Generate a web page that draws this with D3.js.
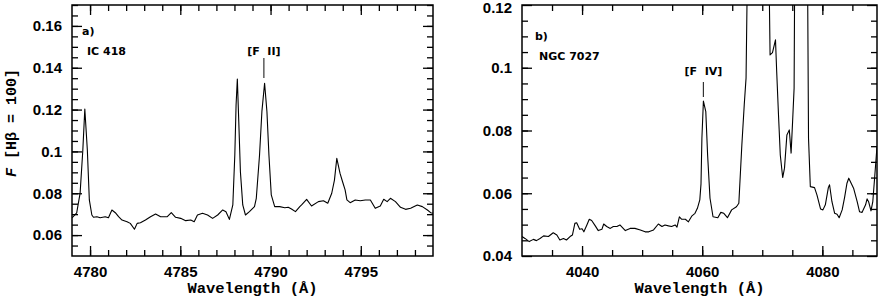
<!DOCTYPE html>
<html><head><meta charset="utf-8">
<script src="https://cdn.jsdelivr.net/npm/d3@7"></script>
<style>body{margin:0;background:#fff} svg{display:block}</style>
</head><body><svg id="c" width="883" height="300"></svg>
<script>
// ---------- data ----------
const waveA = [4779.00,4779.26,4779.45,4779.60,4779.71,4779.85,4779.96,4780.10,4780.19,4780.38,4780.56,4780.84,4781.02,4781.21,4781.40,4781.58,4781.77,4782.05,4782.23,4782.46,4782.61,4782.79,4783.07,4783.35,4783.63,4783.91,4784.28,4784.50,4784.74,4785.02,4785.30,4785.58,4785.77,4785.95,4786.23,4786.51,4786.79,4787.07,4787.35,4787.53,4787.72,4787.91,4788.02,4788.09,4788.16,4788.24,4788.33,4788.46,4788.61,4788.83,4789.11,4789.21,4789.39,4789.52,4789.67,4789.80,4789.91,4790.04,4790.23,4790.51,4790.79,4790.98,4791.16,4791.38,4791.62,4791.72,4792.00,4792.27,4792.65,4792.93,4793.17,4793.39,4793.54,4793.67,4793.85,4793.99,4794.13,4794.23,4794.41,4794.69,4794.97,4795.25,4795.53,4795.80,4796.08,4796.27,4796.46,4796.64,4796.92,4797.20,4797.48,4797.76,4798.13,4798.41,4798.69,4798.87,4799.00];
const fluxA = [0.0682,0.0706,0.0801,0.1007,0.1203,0.1007,0.0768,0.0696,0.0685,0.0688,0.0683,0.0688,0.0683,0.0720,0.0707,0.0688,0.0672,0.0664,0.0656,0.0628,0.0656,0.0659,0.0672,0.0688,0.0701,0.0688,0.0688,0.0707,0.0685,0.0680,0.0669,0.0672,0.0664,0.0696,0.0704,0.0696,0.0680,0.0696,0.0720,0.0712,0.0675,0.0744,0.0983,0.1222,0.1346,0.1142,0.0903,0.0744,0.0696,0.0712,0.0736,0.0776,0.0983,0.1190,0.1326,0.1190,0.0983,0.0792,0.0736,0.0736,0.0731,0.0733,0.0725,0.0712,0.0736,0.0744,0.0771,0.0739,0.0760,0.0764,0.0752,0.0800,0.0863,0.0967,0.0895,0.0855,0.0816,0.0768,0.0755,0.0768,0.0764,0.0768,0.0768,0.0728,0.0739,0.0771,0.0760,0.0776,0.0760,0.0733,0.0723,0.0728,0.0744,0.0736,0.0720,0.0707,0.0704];

const waveB = [4030.0,4030.5,4031.2,4031.9,4032.4,4033.0,4033.6,4034.4,4035.2,4035.8,
4036.3,4036.9,4037.4,4038.0,4038.4,4038.8,4039.1,4039.6,4040.0,4040.3,
4040.8,4041.2,4041.6,4042.2,4042.7,4043.3,4043.6,4044.1,4044.7,4045.2,
4045.8,4046.3,4047.2,4048.0,4048.8,4049.7,4050.5,4051.1,4051.9,4052.7,
4053.3,4053.8,4054.4,4054.9,4055.5,4055.8,4056.2,4056.6,4057.2,4057.7,
4058.3,4058.8,4059.2,4059.6,4059.8,4059.95,4060.2,4060.6,4060.9,4061.3,
4061.8,4062.6,4063.1,4063.6,4064.2,4064.9,4065.7,4066.1,4066.6,4067.0,
4067.3,4069.3,4071.3,4071.7,4072.2,4072.4,4072.7,4073.0,4073.4,4073.7,
4074.1,4074.5,4074.8,4075.05,4075.3,4076.4,4077.7,4078.0,4078.7,4079.1,
4079.7,4080.1,4080.5,4081.0,4081.2,4081.6,4082.05,4082.45,4082.8,4083.3,
4083.7,4084.1,4084.4,4084.8,4085.2,4085.8,4086.2,4086.6,4087.2,4087.45,
4087.7,4088.1,4088.4,4088.7,4089.1];
const fluxB = [0.0462,0.0456,0.0446,0.0453,0.0449,0.0456,0.0464,0.0462,0.0474,0.0467,
0.0451,0.0456,0.0451,0.0462,0.0467,0.0504,0.0506,0.0485,0.0487,0.0477,
0.0499,0.0517,0.0513,0.0496,0.0481,0.0485,0.0502,0.0494,0.0488,0.0494,
0.0494,0.0499,0.0481,0.0488,0.0488,0.0483,0.0477,0.0477,0.0483,0.0502,
0.0494,0.0499,0.0496,0.0494,0.0499,0.0492,0.0525,0.0517,0.0517,0.0509,
0.0528,0.0536,0.0552,0.0579,0.0630,0.0775,0.0894,0.0860,0.0722,0.0584,
0.0525,0.0522,0.0539,0.0536,0.0522,0.0547,0.0557,0.0568,0.0754,0.0882,
0.0967,0.4000,0.1041,0.1048,0.1089,0.0988,0.0850,0.0722,0.0650,0.0680,
0.0786,0.0802,0.0728,0.0829,0.0935,0.5000,0.0775,0.0621,0.0618,0.0595,
0.0550,0.0547,0.0563,0.0618,0.0627,0.0573,0.0536,0.0533,0.0522,0.0547,
0.0586,0.0632,0.0648,0.0632,0.0616,0.0573,0.0541,0.0539,0.0563,0.0582,
0.0573,0.0544,0.0573,0.0648,0.0749];

const xTicksA = [4780, 4785, 4790, 4795];
const xLabelsA = ["4780", "4785", "4790", "4795"];
const yTicksA = [0.06, 0.08, 0.10, 0.12, 0.14, 0.16];
const yLabelsA = ["0.06", "0.08", "0.1", "0.12", "0.14", "0.16"];
const xTicksB = [4040, 4060, 4080];
const xLabelsB = ["4040", "4060", "4080"];
const yTicksB = [0.04, 0.06, 0.08, 0.10, 0.12];
const yLabelsB = ["0.04", "0.06", "0.08", "0.1", "0.12"];

const panelLabels = ["a)", "b)"];
const objectNames = ["IC 418", "NGC 7027"];
const lineIds = ["[F\u00a0\u00a0II]", "[F\u00a0\u00a0IV]"];
const lineWaves = [4789.63, 4060.2];
const xTitle = "Wavelength (\u00c5)";

// ---------- drawing ----------
const svg = d3.select("#c");
const TOP = 5, BOT = 256;
const tickFont = "'Liberation Sans', Arial, Helvetica, sans-serif";
const monoFont = "'Liberation Mono', 'Courier New', monospace";
const annFont = "'DejaVu Sans', sans-serif";

function styleAxis(g) {
  g.select(".domain").remove();
  g.selectAll(".tick line").attr("stroke", "#000").attr("stroke-width", 1.3);
  g.selectAll("text").attr("fill", "#000");
  g.attr("font-family", tickFont).attr("font-size", 15).attr("font-weight", "bold");
}

function panel(cfg) {
  const x = d3.scaleLinear().domain(cfg.xDomain).range([cfg.x0, cfg.x1]);
  const y = d3.scaleLinear().domain(cfg.yDomain).range([BOT, TOP]);
  const g = svg.append("g");
  const fmtX = d => cfg.xLabels[cfg.xTicks.indexOf(d)];
  const fmtY = d => cfg.yLabels[cfg.yTicks.indexOf(d)];

  // minor ticks
  g.append("g").attr("transform", `translate(0,${BOT})`)
    .call(d3.axisBottom(x).tickValues(cfg.xMinor).tickSize(-6).tickFormat("")).call(styleAxis);
  g.append("g").attr("transform", `translate(0,${TOP})`)
    .call(d3.axisTop(x).tickValues(cfg.xMinor).tickSize(-6).tickFormat("")).call(styleAxis);
  g.append("g").attr("transform", `translate(${cfg.x0},0)`)
    .call(d3.axisLeft(y).tickValues(cfg.yMinor).tickSize(-6).tickFormat("")).call(styleAxis);
  g.append("g").attr("transform", `translate(${cfg.x1},0)`)
    .call(d3.axisRight(y).tickValues(cfg.yMinor).tickSize(-6).tickFormat("")).call(styleAxis);
  // major ticks
  g.append("g").attr("transform", `translate(0,${BOT})`)
    .call(d3.axisBottom(x).tickValues(cfg.xTicks).tickSize(-10).tickPadding(10).tickFormat(fmtX)).call(styleAxis);
  g.append("g").attr("transform", `translate(0,${TOP})`)
    .call(d3.axisTop(x).tickValues(cfg.xTicks).tickSize(-10).tickFormat("")).call(styleAxis);
  const ly = g.append("g").attr("transform", `translate(${cfg.x0},0)`)
    .call(d3.axisLeft(y).tickValues(cfg.yTicks).tickSize(-10).tickPadding(10).tickFormat(fmtY)).call(styleAxis);
  // keep a label sitting on the top frame edge inside the picture
  ly.selectAll(".tick text").filter(d => y(d) < TOP + 3).attr("dy", "0.5em");
  g.append("g").attr("transform", `translate(${cfg.x1},0)`)
    .call(d3.axisRight(y).tickValues(cfg.yTicks).tickSize(-10).tickFormat("")).call(styleAxis);

  // frame
  g.append("rect").attr("x", cfg.x0).attr("y", TOP).attr("width", cfg.x1 - cfg.x0).attr("height", BOT - TOP)
    .attr("fill", "none").attr("stroke", "#000").attr("stroke-width", 1.5);

  // spectrum
  const clipId = "clip" + cfg.id;
  svg.append("clipPath").attr("id", clipId).append("rect")
    .attr("x", cfg.x0).attr("y", TOP).attr("width", cfg.x1 - cfg.x0).attr("height", BOT - TOP);
  const data = d3.zip(cfg.wave, cfg.flux);
  g.append("path").datum(data).attr("clip-path", `url(#${clipId})`)
    .attr("fill", "none").attr("stroke", "#000").attr("stroke-width", 1.1).attr("stroke-linejoin", "round")
    .attr("d", d3.line().x(d => x(d[0])).y(d => y(d[1])));

  // x title
  g.append("text").attr("x", (cfg.x0 + cfg.x1) / 2).attr("y", 293).attr("text-anchor", "middle")
    .attr("font-family", monoFont).attr("font-weight", "bold").attr("font-size", 15.5).text(xTitle);

  // annotations
  const ann = g.append("g").attr("font-family", annFont).attr("font-weight", "bold").attr("font-size", 11).attr("fill", "#000");
  ann.append("text").attr("x", cfg.x0 + cfg.labDx).attr("y", cfg.labY).text(cfg.label);
  ann.append("text").attr("x", cfg.x0 + cfg.nameDx).attr("y", cfg.nameY).text(cfg.name);
  const lx = x(cfg.lineWave);
  ann.append("text").attr("x", lx).attr("y", cfg.idY).attr("text-anchor", "middle").text(cfg.lineId);
  g.append("line").attr("x1", lx).attr("x2", lx).attr("y1", cfg.tickY0).attr("y2", cfg.tickY1)
    .attr("stroke", "#333").attr("stroke-width", 1.2);
  return {x, y};
}

panel({
  id: "A", x0: 72, x1: 433, xDomain: [4779, 4799], yDomain: [0.05, 0.17],
  xTicks: xTicksA, xLabels: xLabelsA, yTicks: yTicksA, yLabels: yLabelsA,
  xMinor: d3.range(4780, 4799, 1), yMinor: d3.range(0.055, 0.17, 0.005),
  wave: waveA, flux: fluxA,
  label: panelLabels[0], labDx: 10, labY: 35,
  name: objectNames[0], nameDx: 15, nameY: 55,
  lineId: lineIds[0], lineWave: lineWaves[0], idY: 55, tickY0: 58, tickY1: 78
});
panel({
  id: "B", x0: 522, x1: 877, xDomain: [4030, 4089.1], yDomain: [0.04, 0.12],
  xTicks: xTicksB, xLabels: xLabelsB, yTicks: yTicksB, yLabels: yLabelsB,
  xMinor: d3.range(4035, 4089, 5), yMinor: d3.range(0.045, 0.12, 0.005),
  wave: waveB, flux: fluxB,
  label: panelLabels[1], labDx: 13, labY: 40,
  name: objectNames[1], nameDx: 17, nameY: 60,
  lineId: lineIds[1], lineWave: lineWaves[1], idY: 75, tickY0: 82, tickY1: 97
});

// y title (left panel only)
const yt = svg.append("text").attr("transform", "translate(16,123) rotate(-90)")
  .attr("text-anchor", "middle").attr("font-family", monoFont).attr("font-weight", "bold").attr("font-size", 15);
yt.append("tspan").attr("font-style", "italic").text("F");
yt.append("tspan").text(" [H\u03b2 = 100]");
</script></body></html>
